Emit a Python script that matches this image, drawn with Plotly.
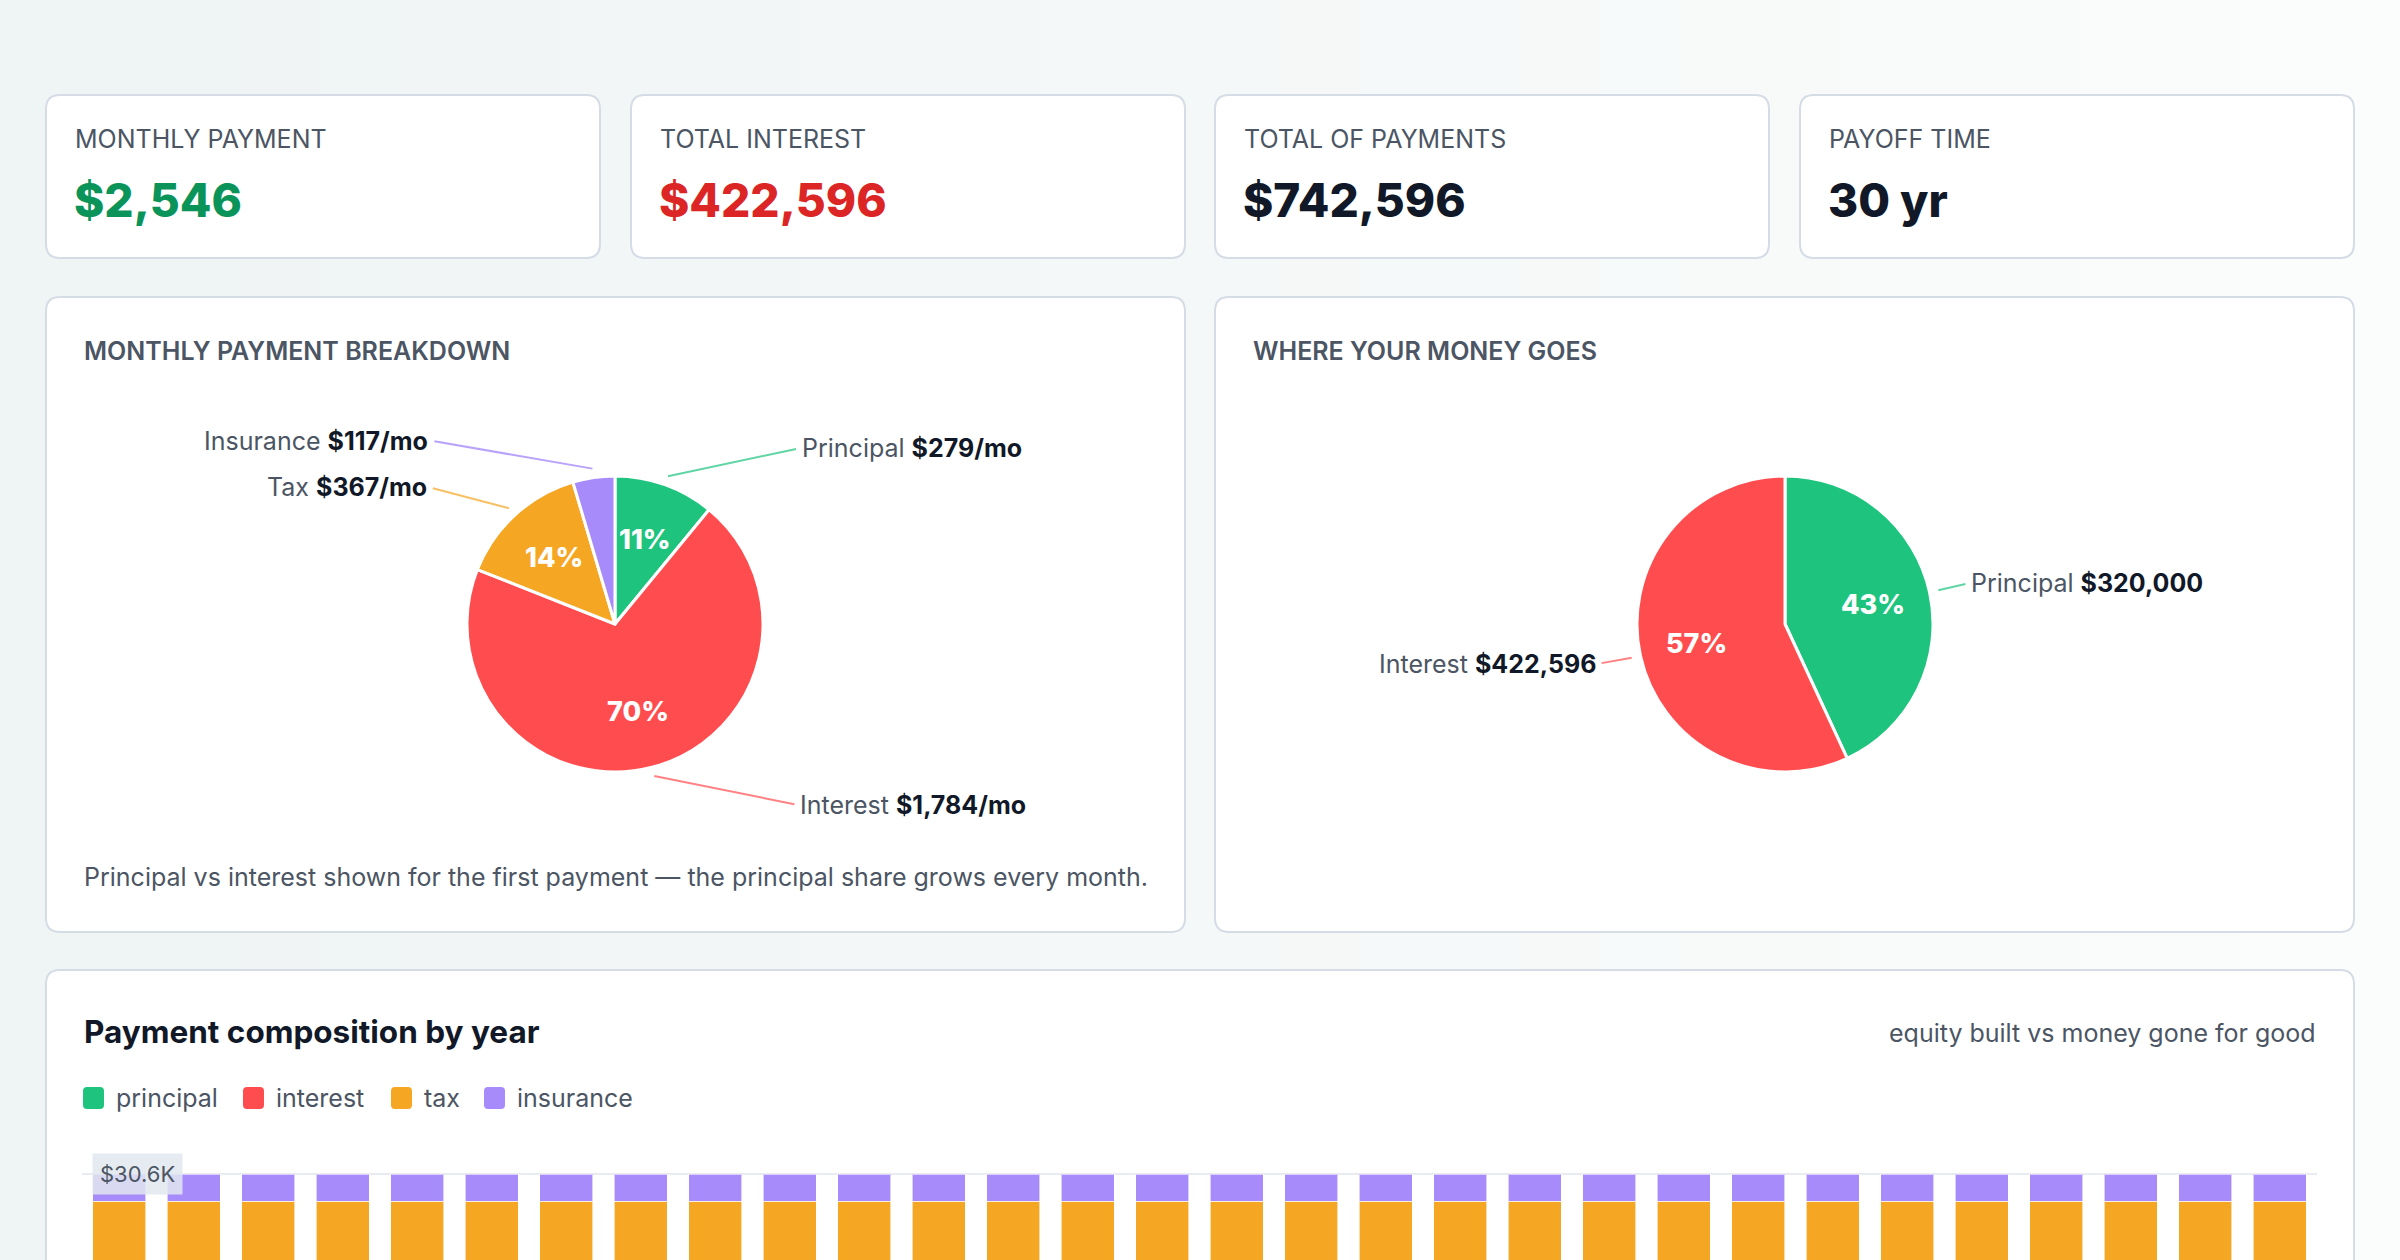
import math
import plotly.graph_objects as go

W, H = 2400, 1260

# KPI cards
kpi_labels = ["MONTHLY PAYMENT", "TOTAL INTEREST", "TOTAL OF PAYMENTS", "PAYOFF TIME"]
kpi_values = ["$2,546", "$422,596", "$742,596", "30 yr"]
kpi_colors = ["#0b9459", "#dc2626", "#111827", "#111827"]

# first payment breakdown
monthly_labels = ["Principal", "Interest", "Tax", "Insurance"]
monthly_values = [279, 1784, 367, 117]

# lifetime split
lifetime_labels = ["Principal", "Interest"]
lifetime_values = [320000, 422596]

# yearly composition (only the top of the stack is visible in the picture)
years = list(range(1, 31))
principal_by_year = [3450, 3688, 3942, 4214, 4505, 4816, 5148, 5503, 5883, 6289,
                     6723, 7187, 7683, 8213, 8779, 9385, 10033, 10725, 11465, 12256,
                     13101, 14005, 14971, 16004, 17108, 18289, 19550, 20899, 22341, 23882]
interest_by_year = [21303, 21065, 20811, 20539, 20248, 19937, 19605, 19250, 18870, 18464,
                    18030, 17566, 17070, 16540, 15974, 15368, 14720, 14028, 13288, 12497,
                    11652, 10748, 9782, 8749, 7645, 6464, 5203, 3854, 2412, 871]
tax_by_year = [4404, 4404, 4404, 4404, 4404, 4404, 4404, 4404, 4404, 4404,
               4404, 4404, 4404, 4404, 4404, 4404, 4404, 4404, 4404, 4404,
               4404, 4404, 4404, 4404, 4404, 4404, 4404, 4404, 4404, 4404]
insurance_by_year = [1404, 1404, 1404, 1404, 1404, 1404, 1404, 1404, 1404, 1404,
                     1404, 1404, 1404, 1404, 1404, 1404, 1404, 1404, 1404, 1404,
                     1404, 1404, 1404, 1404, 1404, 1404, 1404, 1404, 1404, 1404]
series_names = ["principal", "interest", "tax", "insurance"]

GREEN, RED, ORANGE, PURPLE = "#1ec47e", "#ff4d4f", "#f5a623", "#a78bfa"
LINE_COLORS = {"Principal": "rgba(30,196,126,0.7)", "Interest": "rgba(255,77,79,0.7)",
               "Tax": "rgba(245,166,35,0.7)", "Insurance": "rgba(167,139,250,0.8)"}
GRAY, INK = "#4b5563", "#111827"
FONT = "Inter"


def px(x):
    return x / W


def py(y):
    return 1 - y / H


def rounded_box(x0, y0, x1, y1, r=14):
    # rounded rectangle path in paper coords, input in pixels from the top-left
    X0, X1 = px(x0), px(x1)
    Y0, Y1 = py(y0), py(y1)
    rx, ry = r / W, r / H
    return (f"M {X0 + rx},{Y0} L {X1 - rx},{Y0} Q {X1},{Y0} {X1},{Y0 - ry} "
            f"L {X1},{Y1 + ry} Q {X1},{Y1} {X1 - rx},{Y1} L {X0 + rx},{Y1} "
            f"Q {X0},{Y1} {X0},{Y1 + ry} L {X0},{Y0 - ry} Q {X0},{Y0} {X0 + rx},{Y0} Z")


fig = go.Figure()

shapes = []
# soft left-to-right background wash
n_strips = 30
for i in range(n_strips):
    shapes.append(dict(type="rect", xref="paper", yref="paper", x0=i / n_strips, x1=(i + 1) / n_strips,
                       y0=0, y1=1, fillcolor=f"rgba(255,255,255,{0.75 * i / (n_strips - 1):.3f})",
                       line=dict(width=0), layer="below"))

# cards
card_x = [(46, 600), (631, 1185), (1215, 1769), (1800, 2354)]
for x0, x1 in card_x:
    shapes.append(dict(type="path", path=rounded_box(x0, 95, x1, 258), xref="paper", yref="paper",
                       fillcolor="white", line=dict(color="#d5dce6", width=2), layer="below"))
for x0, x1 in [(46, 1185), (1215, 2354)]:
    shapes.append(dict(type="path", path=rounded_box(x0, 297, x1, 932), xref="paper", yref="paper",
                       fillcolor="white", line=dict(color="#d5dce6", width=2), layer="below"))
shapes.append(dict(type="path", path=rounded_box(46, 970, 2354, 1420), xref="paper", yref="paper",
                   fillcolor="white", line=dict(color="#d5dce6", width=2), layer="below"))

annotations = []


def text(x, y, s, size, color=GRAY, weight=400, xanchor="left"):
    annotations.append(dict(x=px(x), y=py(y), xref="paper", yref="paper", text=s, showarrow=False,
                            xanchor=xanchor, yanchor="middle",
                            font=dict(family=FONT, size=size, color=color, weight=weight)))


for (x0, x1), lab, val, col in zip(card_x, kpi_labels, kpi_values, kpi_colors):
    text(x0 + 27, 139, lab, 25)
    text(x0 + 26, 200, val, 46, col, 800)

text(82, 351, "MONTHLY PAYMENT BREAKDOWN", 25, GRAY, 600)
text(1251, 351, "WHERE YOUR MONEY GOES", 25, GRAY, 600)
text(82, 877, "Principal vs interest shown for the first payment \u2014 the principal share grows every month.", 25)
text(82, 1031, "Payment composition by year", 31.5, INK, 700)
text(2318, 1033, "equity built vs money gone for good", 25, GRAY, 400, "right")

# legend for the yearly chart
legend_x = [83, 243, 391, 484]
for lx, name, col in zip(legend_x, series_names, [GREEN, RED, ORANGE, PURPLE]):
    shapes.append(dict(type="path", path=rounded_box(lx, 1087, lx + 21, 1109, r=4), xref="paper", yref="paper",
                       fillcolor=col, line=dict(width=0)))
    text(lx + 31, 1098, name, 25)

# pies
R = 148
pies = [
    dict(cx=615, cy=624, labels=monthly_labels, values=monthly_values,
         colors=[GREEN, RED, ORANGE, PURPLE], fmt="${:,}/mo",
         offsets=[(132, -28, "left"), (144, 29, "left"), (-80, -21, "right"), (-162, -28, "right")],
         hide=[False, False, False, True]),
    dict(cx=1785, cy=624, labels=lifetime_labels, values=lifetime_values,
         colors=[GREEN, RED], fmt="${:,}",
         offsets=[(31, -7, "left"), (-34, 6, "right")],
         hide=[False, False]),
]
for p in pies:
    fig.add_trace(go.Pie(
        labels=p["labels"], values=p["values"], sort=False, direction="clockwise", rotation=0,
        marker=dict(colors=p["colors"], line=dict(color="white", width=3)),
        textinfo="none",
        domain=dict(x=[px(p["cx"] - R), px(p["cx"] + R)], y=[py(p["cy"] + R), py(p["cy"] - R)]),
        showlegend=False, hoverinfo="label+value+percent"))
    total = sum(p["values"])
    start = 0.0
    for lab, v, (ax, ay, anchor), hide in zip(p["labels"], p["values"], p["offsets"], p["hide"]):
        mid = (start + v / 2) / total * 2 * math.pi
        start += v
        # percentage inside the slice
        if not hide:
            tx = p["cx"] + 0.61 * R * math.sin(mid)
            ty = p["cy"] - 0.61 * R * math.cos(mid)
            annotations.append(dict(x=px(tx), y=py(ty), xref="paper", yref="paper", showarrow=False,
                                    text=f"{round(100 * v / total)}%", xanchor="center", yanchor="middle",
                                    font=dict(family=FONT, size=27, color="white", weight=800)))
        # outside label with leader line
        hx = p["cx"] + (R + 9) * math.sin(mid)
        hy = p["cy"] - (R + 9) * math.cos(mid)
        annotations.append(dict(
            x=px(hx), y=py(hy), xref="paper", yref="paper", ax=ax, ay=ay,
            xanchor=anchor, yanchor="middle", showarrow=True, arrowhead=0, arrowwidth=2,
            arrowcolor=LINE_COLORS[lab], standoff=0, startstandoff=4,
            text=f"{lab} <b><span style='color:{INK}'>{p['fmt'].format(v)}</span></b>",
            font=dict(family=FONT, size=25, color=GRAY)))

# stacked bars by year
stack = [principal_by_year, interest_by_year, tax_by_year, insurance_by_year]
bar_colors = [GREEN, RED, ORANGE, PURPLE]
for name, vals, col in zip(series_names, stack, bar_colors):
    fig.add_trace(go.Bar(x=years, y=vals, name=name,
                         marker=dict(color=col, line=dict(color="rgba(255,255,255,0.6)", width=1)),
                         showlegend=False, hovertemplate=name + " %{y:$,.0f}<extra>year %{x}</extra>"))

totals = [a + b + c + d for a, b, c, d in zip(*stack)]
top = max(totals)
annotations.append(dict(x=px(92), y=top, xref="paper", yref="y", text=f"${top / 1000:.1f}K",
                        showarrow=False, xanchor="left", yanchor="middle",
                        bgcolor="rgba(226,232,240,0.85)", borderpad=7,
                        font=dict(family=FONT, size=22, color=GRAY)))

fig.update_layout(
    width=W, height=H, margin=dict(l=0, r=0, t=0, b=0),
    paper_bgcolor="#eff4f4", plot_bgcolor="rgba(0,0,0,0)",
    barmode="stack", bargap=0.29, showlegend=False,
    shapes=shapes, annotations=annotations,
    xaxis=dict(domain=[px(82), px(2317)], range=[0.5, 30.5], showgrid=False, zeroline=False,
               showticklabels=False, fixedrange=True),
    yaxis=dict(domain=[0, py(1150)], range=[26089, 31809], tickvals=[top], showticklabels=False,
               gridcolor="#e8ecf1", gridwidth=2, zeroline=False, fixedrange=True),
    font=dict(family=FONT),
)

fig.write_html("out.html", config={"displayModeBar": False},
               post_script="document.body.style.margin='0';")
